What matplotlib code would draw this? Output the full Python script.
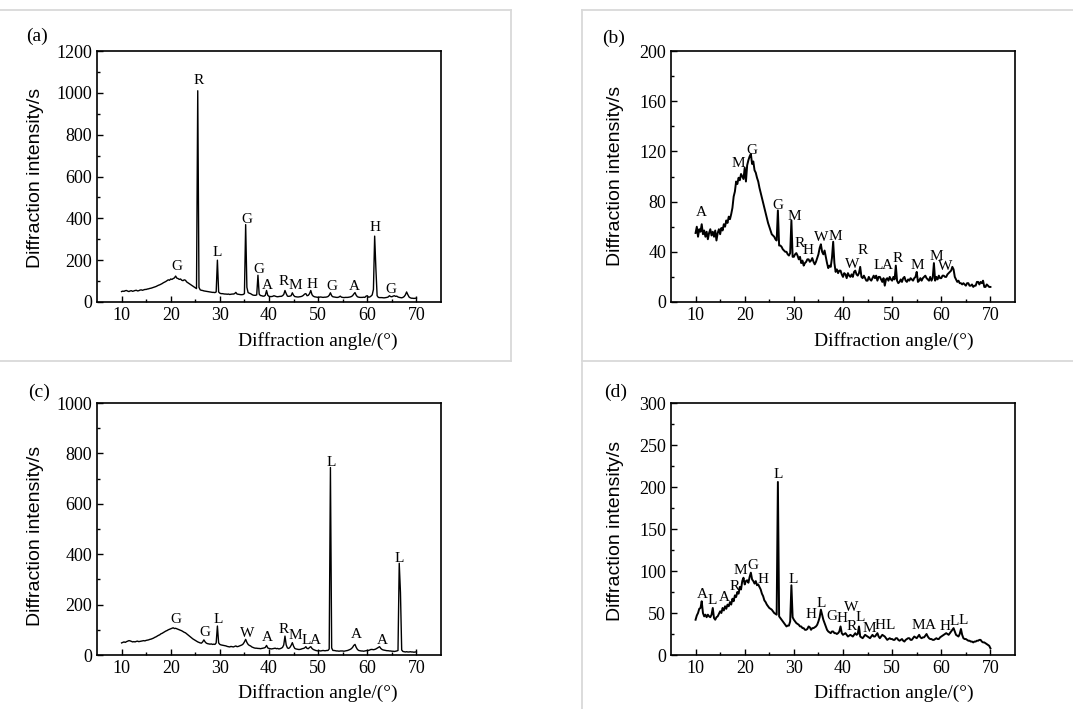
import numpy as np
import matplotlib
matplotlib.use("Agg")
import matplotlib.pyplot as plt
from matplotlib.lines import Line2D
from matplotlib.ticker import FixedLocator, MultipleLocator

W, H = 1073, 709
SERIF = "Liberation Serif"
SANS = "Liberation Sans"

# 2-theta sampling grid, 10..70 deg every 0.25 deg (241 points)
angles = np.round(np.arange(10.0, 70.0 + 1e-9, 0.25), 2)

# intensities, one row per 5 degrees
intensity_a = [
    50, 52, 51, 54, 55, 52, 50, 53, 54, 51, 53, 55, 56, 53, 54, 57, 58, 56, 58, 60,
    60, 62, 63, 65, 66, 68, 70, 72, 74, 77, 80, 82, 85, 88, 92, 95, 98, 102, 106, 104,
    110, 108, 112, 115, 124, 114, 112, 108, 110, 104, 102, 106, 104, 96, 92, 88, 84, 80, 76, 72,
    68, 64, 1010, 70, 58, 56, 55, 53, 52, 51, 50, 49, 48, 47, 46, 46, 45, 48, 200, 48,
    42, 40, 40, 39, 38, 38, 37, 38, 36, 37, 38, 38, 40, 46, 38, 37, 36, 35, 35, 36,
    40, 370, 70, 45, 42, 40, 36, 33, 32, 32, 34, 128, 38, 31, 30, 28, 28, 32, 55, 32,
    27, 26, 26, 27, 30, 28, 26, 25, 26, 27, 27, 30, 36, 55, 40, 28, 27, 28, 30, 44,
    32, 26, 25, 24, 24, 25, 26, 28, 32, 38, 40, 30, 32, 40, 55, 35, 28, 25, 24, 23,
    22, 23, 24, 23, 22, 23, 23, 24, 26, 32, 44, 30, 25, 24, 23, 22, 22, 24, 28, 23,
    22, 21, 22, 22, 22, 23, 24, 26, 30, 38, 45, 32, 25, 23, 22, 22, 22, 23, 22, 28,
    30, 23, 24, 28, 34, 60, 315, 160, 30, 22, 21, 21, 21, 20, 20, 21, 22, 24, 30, 26,
    25, 28, 30, 27, 28, 24, 22, 21, 20, 22, 26, 34, 48, 35, 24, 20, 18, 18, 17, 18,
    18,
]

intensity_b = [
    55, 60, 52, 58, 56, 62, 54, 57, 52, 56, 50, 55, 58, 53, 56, 52, 57, 49, 55, 58,
    54, 59, 57, 62, 60, 65, 63, 68, 66, 70, 75, 84, 88, 96, 94, 99, 97, 102, 100, 98,
    107, 96, 109, 113, 116, 118, 110, 112, 105, 103, 99, 96, 91, 87, 83, 79, 75, 71, 67, 63,
    60, 57, 54, 53, 52, 50, 49, 73, 45, 45, 44, 42, 41, 40, 40, 38, 37, 39, 65, 36,
    36, 38, 39, 37, 34, 36, 31, 33, 29, 31, 32, 34, 34, 32, 33, 35, 32, 30, 32, 35,
    38, 43, 46, 40, 38, 41, 36, 31, 27, 29, 28, 35, 48, 31, 24, 26, 23, 25, 25, 22,
    20, 23, 22, 19, 23, 21, 20, 22, 20, 24, 25, 22, 21, 23, 28, 20, 19, 21, 19, 17,
    17, 20, 18, 17, 19, 21, 19, 21, 17, 20, 20, 18, 16, 19, 13, 18, 19, 17, 20, 18,
    17, 20, 18, 29, 17, 15, 16, 18, 16, 19, 20, 17, 16, 18, 17, 19, 18, 17, 19, 20,
    24, 16, 17, 19, 17, 19, 20, 21, 19, 18, 17, 20, 17, 19, 31, 17, 20, 18, 21, 19,
    19, 21, 21, 20, 20, 22, 23, 24, 25, 28, 26, 20, 18, 16, 17, 15, 15, 14, 15, 14,
    13, 15, 15, 13, 13, 14, 12, 13, 13, 16, 16, 14, 16, 15, 17, 12, 12, 14, 13, 12,
    12,
]

intensity_c = [
    48, 50, 52, 50, 53, 55, 57, 56, 54, 52, 53, 52, 54, 55, 53, 54, 55, 56, 57, 56,
    58, 59, 60, 62, 63, 65, 67, 70, 72, 75, 78, 80, 84, 86, 89, 92, 95, 97, 100, 102,
    104, 106, 108, 105, 106, 104, 102, 100, 98, 96, 93, 90, 88, 84, 80, 76, 72, 68, 64, 61,
    58, 55, 52, 50, 48, 47, 52, 60, 52, 47, 45, 44, 43, 44, 42, 43, 42, 48, 115, 48,
    42, 40, 39, 38, 37, 36, 34, 33, 32, 34, 33, 32, 34, 36, 33, 34, 36, 38, 40, 44,
    52, 62, 50, 42, 38, 36, 32, 30, 28, 27, 27, 26, 26, 25, 26, 27, 28, 30, 38, 28,
    26, 25, 24, 25, 26, 27, 25, 26, 24, 25, 27, 30, 40, 75, 40, 28, 26, 30, 38, 49,
    35, 26, 24, 23, 22, 22, 23, 25, 26, 28, 33, 26, 25, 30, 33, 26, 22, 20, 18, 17,
    16, 17, 16, 17, 18, 17, 17, 18, 18, 24, 744, 28, 18, 18, 17, 16, 16, 15, 16, 16,
    16, 15, 16, 17, 18, 20, 22, 25, 30, 38, 42, 30, 22, 18, 17, 16, 16, 15, 16, 17,
    18, 18, 20, 22, 22, 21, 22, 24, 27, 30, 33, 26, 22, 20, 19, 18, 17, 17, 16, 16,
    15, 15, 14, 15, 16, 18, 364, 248, 20, 14, 13, 12, 13, 12, 12, 13, 12, 12, 11, 12,
    12,
]

intensity_d = [
    42, 47, 50, 55, 56, 64, 50, 46, 48, 45, 48, 46, 45, 48, 56, 44, 42, 45, 46, 49,
    52, 50, 56, 53, 58, 55, 60, 58, 63, 60, 67, 64, 71, 69, 75, 73, 81, 78, 88, 92,
    84, 88, 89, 86, 93, 98, 90, 88, 85, 88, 83, 84, 81, 78, 73, 70, 65, 63, 60, 58,
    56, 55, 54, 52, 50, 49, 48, 206, 46, 44, 42, 40, 38, 36, 34, 35, 35, 40, 83, 45,
    42, 40, 38, 37, 36, 34, 34, 32, 32, 30, 30, 31, 34, 33, 30, 32, 32, 33, 34, 36,
    40, 45, 54, 48, 42, 38, 34, 30, 28, 27, 26, 28, 28, 26, 26, 25, 26, 28, 34, 26,
    24, 25, 26, 24, 22, 23, 24, 23, 22, 24, 26, 24, 25, 34, 22, 21, 20, 22, 24, 23,
    22, 21, 20, 22, 24, 22, 22, 24, 26, 22, 20, 22, 24, 23, 22, 20, 18, 19, 20, 19,
    19, 18, 18, 20, 20, 18, 17, 18, 19, 17, 16, 18, 19, 20, 20, 18, 18, 20, 22, 21,
    20, 22, 24, 21, 20, 21, 21, 23, 25, 22, 20, 19, 19, 18, 18, 19, 20, 19, 19, 21,
    22, 23, 24, 25, 26, 25, 24, 26, 28, 30, 32, 28, 24, 23, 22, 25, 31, 24, 20, 19,
    19, 18, 17, 17, 16, 16, 15, 16, 16, 17, 17, 18, 18, 16, 15, 15, 14, 13, 12, 11,
    8,
]

# phase labels: (letter, angle, intensity at label centre)
peaks_a = [
    ("G", 21.3, 172), ("R", 25.7, 1058), ("L", 29.5, 236), ("G", 35.4, 395),
    ("G", 37.9, 156), ("A", 39.6, 80), ("R", 43.0, 97), ("M", 45.4, 81),
    ("H", 48.7, 86), ("G", 52.7, 73), ("A", 57.4, 73), ("H", 61.5, 357),
    ("G", 64.9, 61),
]
peaks_b = [
    ("A", 11.2, 71), ("M", 18.8, 110), ("G", 21.4, 121), ("G", 26.8, 77),
    ("M", 30.1, 68), ("R", 31.2, 47), ("H", 32.9, 41), ("W", 35.6, 51),
    ("M", 38.4, 52), ("W", 41.9, 30), ("R", 44.0, 41), ("L", 47.1, 29),
    ("A", 49.0, 29), ("R", 51.2, 35), ("M", 55.2, 29), ("M", 58.9, 36),
    ("W", 60.8, 28),
]
peaks_c = [
    ("G", 21.0, 142), ("G", 27.0, 89), ("L", 29.7, 142), ("W", 35.6, 86),
    ("A", 39.7, 68), ("R", 42.9, 101), ("M", 45.4, 78), ("L", 47.6, 58),
    ("A", 49.4, 58), ("L", 52.6, 765), ("A", 57.8, 81), ("A", 63.0, 58),
    ("L", 66.5, 384),
]
peaks_d = [
    ("A", 11.4, 72), ("L", 13.4, 65), ("A", 15.8, 69), ("R", 18.0, 82),
    ("M", 19.2, 101), ("G", 21.7, 106), ("H", 23.7, 90), ("L", 26.8, 215),
    ("L", 29.9, 90), ("H", 33.4, 48), ("L", 35.6, 61), ("G", 37.7, 46),
    ("H", 39.8, 43), ("W", 41.6, 57), ("R", 41.7, 34), ("L", 43.6, 45),
    ("M", 45.4, 31), ("H", 47.5, 35), ("L", 49.6, 35), ("M", 55.4, 35),
    ("A", 57.7, 35), ("H", 60.8, 34), ("L", 62.6, 40), ("L", 64.5, 41),
]

y_max = {"a": 1200, "b": 200, "c": 1000, "d": 300}
y_step = {"a": 200, "b": 40, "c": 200, "d": 50}
line_w = {"a": 1.0, "b": 1.4, "c": 1.0, "d": 1.4}


def fx(px):
    return px / W


def fy(py):
    return 1 - py / H


def main():
    plt.rcParams["font.family"] = [SERIF, "DejaVu Serif"]
    fig = plt.figure(figsize=(W / 100, H / 100), dpi=100)
    fig.patch.set_facecolor("white")

    # left, top, right, bottom in pixels; tag pos; y-label pos; x-label pos
    panels = [
        ("a", intensity_a, peaks_a, (97, 51, 441, 302), (37, 36), (36, 178), (318, 341)),
        ("b", intensity_b, peaks_b, (671, 51, 1015, 302), (614, 38), (615, 176), (894, 341)),
        ("c", intensity_c, peaks_c, (97, 403, 441, 655), (39, 392), (36, 536), (318, 693)),
        ("d", intensity_d, peaks_d, (671, 403, 1015, 655), (616, 392), (615, 531), (894, 693)),
    ]

    for key, values, peaks, box, tag_pos, ylab_pos, xlab_pos in panels:
        left, top, right, bottom = box
        ax = fig.add_axes([fx(left), fy(bottom), (right - left) / W, (bottom - top) / H])
        ax.plot(angles, values, color="black", lw=line_w[key])
        ax.set_xlim(5, 75)
        ax.set_ylim(0, y_max[key])
        ax.xaxis.set_major_locator(FixedLocator(list(range(10, 71, 10))))
        ax.xaxis.set_minor_locator(FixedLocator(list(range(15, 70, 10))))
        ax.yaxis.set_major_locator(MultipleLocator(y_step[key]))
        ax.yaxis.set_minor_locator(MultipleLocator(y_step[key] / 2))
        ax.tick_params(which="both", direction="in", top=False, right=False,
                       width=1.0, color="black")
        ax.tick_params(which="major", length=4.3, labelsize=13, pad=3.5)
        ax.tick_params(which="minor", length=2.5)
        for spine in ax.spines.values():
            spine.set_linewidth(1.2)

        for letter, xa, ya in peaks:
            ax.text(xa, ya, letter, ha="center", va="center", fontsize=11)

        fig.text(fx(tag_pos[0]), fy(tag_pos[1]), f"({key})", ha="center", va="center",
                 fontsize=14)
        fig.text(fx(ylab_pos[0]), fy(ylab_pos[1]), "Diffraction intensity/s",
                 ha="center", va="center", rotation=90, fontsize=14, family=SANS)
        fig.text(fx(xlab_pos[0]), fy(xlab_pos[1]), "Diffraction angle/(°)",
                 ha="center", va="center", fontsize=14)

    # faint frames of the pasted sub-images
    frame = dict(transform=fig.transFigure, color="#d9d9d9", lw=1.3)
    segments = [
        ((0, 511), (10, 10)), ((582, 1073), (10, 10)),
        ((511, 511), (10, 361)),
        ((0, 511), (361, 361)), ((582, 1073), (361, 361)),
        ((582, 582), (10, 361)), ((582, 582), (363, 709)),
    ]
    for xs, ys in segments:
        fig.add_artist(Line2D([fx(x) for x in xs], [fy(y) for y in ys], **frame))

    fig.savefig("out.png", dpi=100, facecolor="white")
    plt.close(fig)


if __name__ == "__main__":
    main()
